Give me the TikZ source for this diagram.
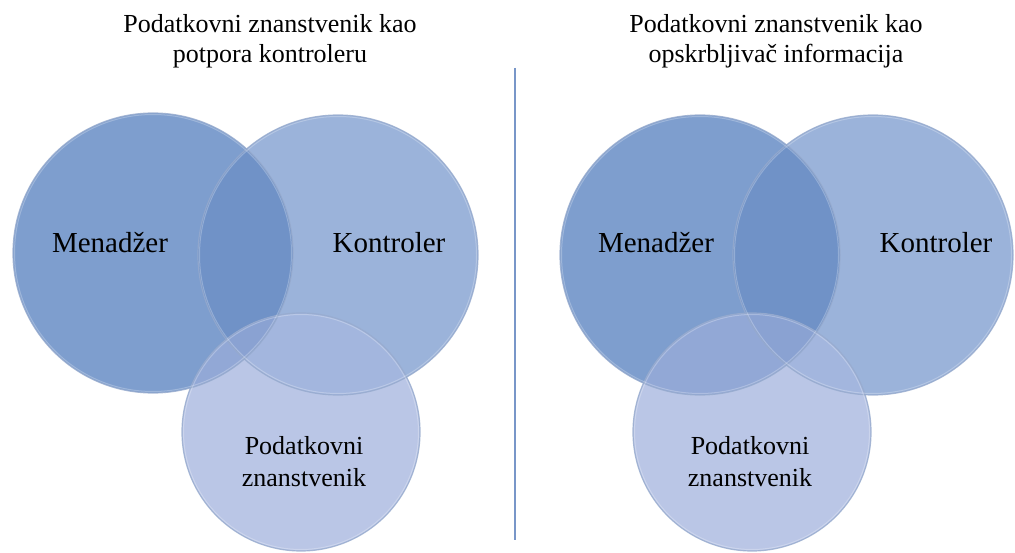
\documentclass[tikz,border=0pt]{standalone}
\usepackage{fontspec}
\setmainfont{Liberation Serif}
\definecolor{cM}{RGB}{126,158,206}
\definecolor{cK}{RGB}{155,179,218}
\definecolor{cMK}{RGB}{112,146,199}
\definecolor{cP}{RGB}{186,198,230}
\definecolor{cPM}{RGB}{146,168,214}
\definecolor{cPK}{RGB}{163,182,222}
\definecolor{cPMK}{RGB}{138,162,210}
\definecolor{rim}{RGB}{150,170,205}
\definecolor{divc}{RGB}{120,150,200}
\newcommand\drawvenn[3]{%
  \fill[cM] (#1) circle[radius=140];
  \fill[cK] (#2) circle[radius=140];
  \begin{scope}
    \clip (#1) circle[radius=140];
    \fill[cMK] (#2) circle[radius=140];
  \end{scope}
  \fill[cP] (#3) circle[radius=119];
  \begin{scope}
    \clip (#3) circle[radius=119];
    \fill[cPM] (#1) circle[radius=140];
    \fill[cPK] (#2) circle[radius=140];
    \clip (#1) circle[radius=140];
    \fill[cPMK] (#2) circle[radius=140];
  \end{scope}
  \draw[rimline] (#1) circle[radius=140];
  \draw[rimline] (#2) circle[radius=140];
  \draw[rimline] (#3) circle[radius=119];
  \draw[innerline] (#1) circle[radius=138.5];
  \draw[innerline] (#2) circle[radius=138.5];
  \draw[innerline] (#3) circle[radius=117.5];
}
\begin{document}
\begin{tikzpicture}[x=1pt,y=-1pt,
  title/.style={font=\fontsize{26}{30}\selectfont, align=center, inner sep=0},
  biglbl/.style={font=\fontsize{29}{33}\selectfont, inner sep=0},
  smalllbl/.style={font=\fontsize{26}{32}\selectfont, align=center, inner sep=0},
  rimline/.style={draw=rim, line width=1.2pt, opacity=0.8},
  innerline/.style={draw=white, line width=1pt, opacity=0.25},
  divider/.style={draw=divc, line width=1.3pt}]
\useasboundingbox (0,0) rectangle (1015,553);
\fill[white] (0,0) rectangle (1015,553);
% left diagram
\coordinate (m1) at (153,253);
\coordinate (k1) at (338,255);
\coordinate (p1) at (301,432);
\drawvenn{m1}{k1}{p1}
% right diagram
\coordinate (m2) at (700,255);
\coordinate (k2) at (873,255);
\coordinate (p2) at (752,432);
\drawvenn{m2}{k2}{p2}
% divider
\coordinate (d1) at (515,68);
\coordinate (d2) at (515,540);
\draw[divider] (d1) -- (d2);
% titles
\node[title] (t1) at (270,41) {Podatkovni znanstvenik kao\\potpora kontroleru};
\node[title] (t2) at (776,41) {Podatkovni znanstvenik kao\\opskrbljivač informacija};
% labels
\node[biglbl] (lm1) at (110,243) {Menadžer};
\node[biglbl] (lk1) at (389,243) {Kontroler};
\node[smalllbl] (lp1) at (304,462) {Podatkovni\\znanstvenik};
\node[biglbl] (lm2) at (656,243) {Menadžer};
\node[biglbl] (lk2) at (936,243) {Kontroler};
\node[smalllbl] (lp2) at (750,462) {Podatkovni\\znanstvenik};
\end{tikzpicture}
\end{document}
